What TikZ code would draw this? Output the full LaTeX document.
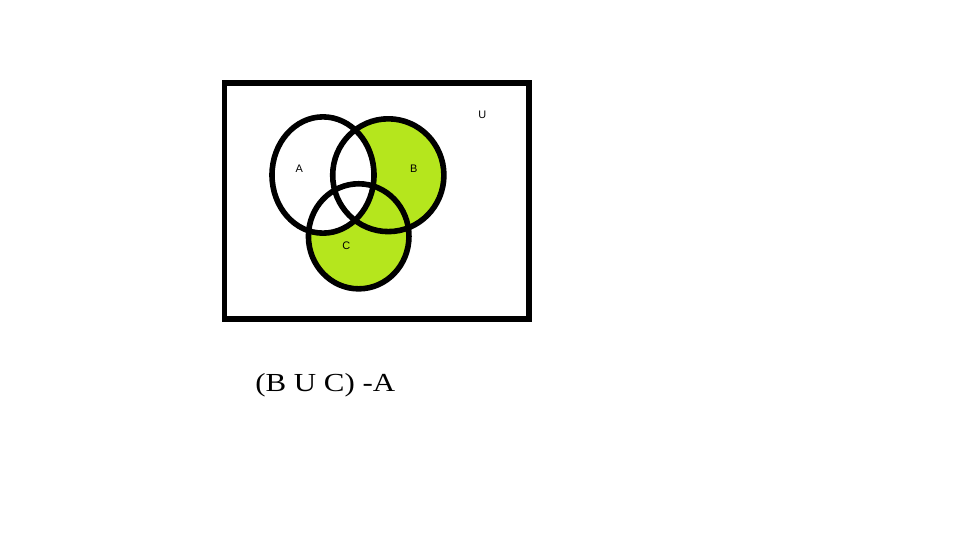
\documentclass[tikz,border=0pt]{standalone}
\usepackage{fontspec}
\setmainfont{Liberation Serif}
\newfontfamily\lblfont{Liberation Sans}
\definecolor{paintlime}{RGB}{181,230,29}
\begin{document}
\begin{tikzpicture}[x=0.75pt,y=-0.75pt]
\tikzset{
  outline/.style={line width=4.2pt, draw=black},
  lbl/.style={font=\lblfont\fontsize{8.2}{9}\selectfont, inner sep=0pt},
  expr/.style={font=\fontsize{19.5}{22}\selectfont, inner sep=0pt, anchor=base west}
}
\useasboundingbox[fill=white] (0,0) rectangle (960,540);
\coordinate (cA) at (323,175);
\coordinate (cB) at (388.3,175.2);
\coordinate (cC) at (358.7,236.3);
% shading (B U C) - A
\fill[paintlime] (cB) ellipse [x radius=41.7pt, y radius=42.3pt];
\fill[paintlime] (cC) ellipse [x radius=37.7pt, y radius=39.4pt];
\fill[white] (cA) ellipse [x radius=38.25pt, y radius=43.6pt];
% outlines
\draw[outline] (cA) ellipse [x radius=38.25pt, y radius=43.6pt];
\draw[outline] (cB) ellipse [x radius=41.7pt, y radius=42.3pt];
\draw[outline] (cC) ellipse [x radius=37.7pt, y radius=39.4pt];
\draw[outline] (224.5,83.2) rectangle (528.9,319.2);
% labels
\node[lbl] (lA) at (299.3,169) {A};
\node[lbl] (lB) at (413.7,169) {B};
\node[lbl] (lC) at (346.3,246) {C};
\node[lbl] (lU) at (482.3,114.3) {U};
\node[expr] (ex) at (255,391.5) {\resizebox{105pt}{\height}{(B U C) -A}};
\end{tikzpicture}
\end{document}
